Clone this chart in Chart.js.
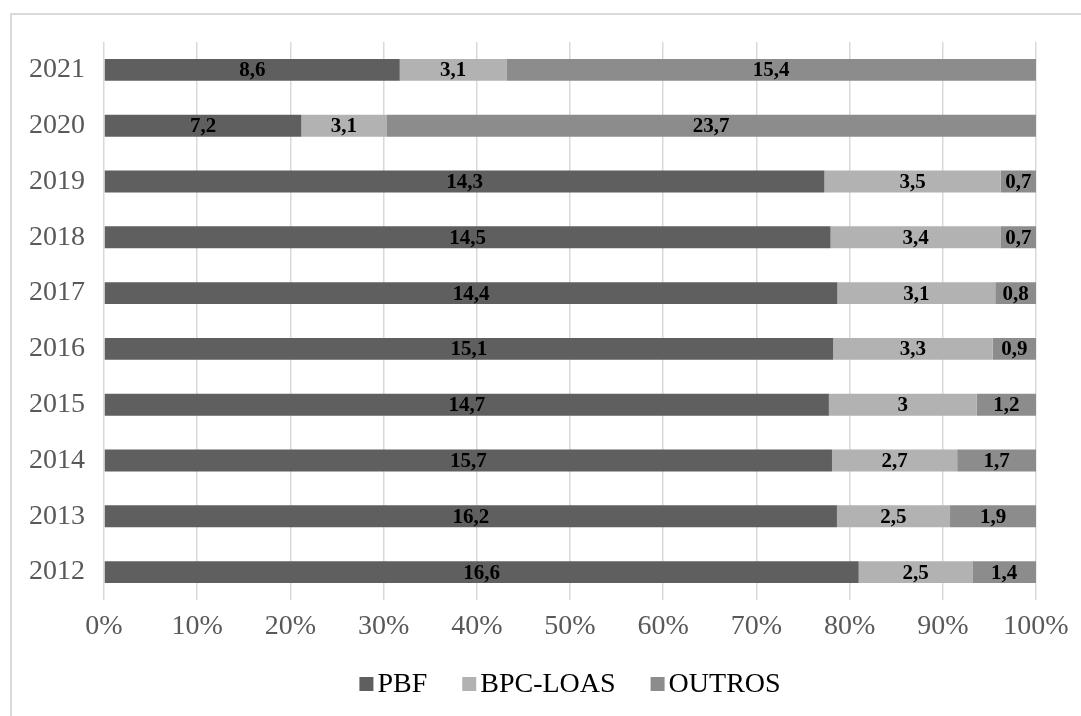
<!DOCTYPE html>
<html>
<head>
<meta charset="utf-8">
<script src="https://cdn.jsdelivr.net/npm/chart.js@4.4.1/dist/chart.umd.min.js"></script>
<style>
  html, body { margin: 0; padding: 0; background: #ffffff; }
  #wrap { width: 1081px; height: 716px; position: relative; }
</style>
</head>
<body>
<div id="wrap"><canvas id="chart"></canvas></div>
<script>
// Anos (de cima para baixo, como no gráfico)
const years = ['2021', '2020', '2019', '2018', '2017', '2016', '2015', '2014', '2013', '2012'];

// Valores por programa (rótulos das barras)
const pbf     = [8.6, 7.2, 14.3, 14.5, 14.4, 15.1, 14.7, 15.7, 16.2, 16.6];
const bpcLoas = [3.1, 3.1, 3.5, 3.4, 3.1, 3.3, 3.0, 2.7, 2.5, 2.5];
const outros  = [15.4, 23.7, 0.7, 0.7, 0.8, 0.9, 1.2, 1.7, 1.9, 1.4];

const xTicks = [0, 10, 20, 30, 40, 50, 60, 70, 80, 90, 100];

const COLORS = {
  pbf: '#5f5f5f',
  bpc: '#b2b2b2',
  outros: '#8c8c8c',
  grid: '#d9d9d9',
  tick: '#595959'
};

const SERIF = '"Liberation Serif", "Times New Roman", serif';

// 100% empilhado: cada segmento em % do total do ano
const totals = years.map((_, i) => pbf[i] + bpcLoas[i] + outros[i]);
const toPct = arr => arr.map((v, i) => v / totals[i] * 100);

const rawBySet = [pbf, bpcLoas, outros];

function fmt(v) {
  return String(v).replace('.', ',');
}

// Rótulos dentro das barras
const barLabels = {
  id: 'barLabels',
  afterDatasetsDraw(chart) {
    const ctx = chart.ctx;
    ctx.save();
    ctx.font = 'bold 21px ' + SERIF;
    ctx.fillStyle = '#000000';
    ctx.textAlign = 'center';
    ctx.textBaseline = 'middle';
    chart.data.datasets.forEach((ds, di) => {
      const meta = chart.getDatasetMeta(di);
      meta.data.forEach((el, i) => {
        const cx = (el.x + el.base) / 2;
        ctx.fillText(fmt(rawBySet[di][i]), cx, el.y + 1);
      });
    });
    ctx.restore();
  }
};

// Legenda embaixo, caixa colada ao texto
const bottomLegend = {
  id: 'bottomLegend',
  afterDraw(chart) {
    const ctx = chart.ctx;
    const box = 14, gap = 4, spacing = 35, y = 684;
    ctx.save();
    ctx.font = '28px ' + SERIF;
    ctx.textBaseline = 'middle';
    const items = chart.data.datasets.map(ds => ({
      text: ds.label,
      color: ds.backgroundColor,
      w: box + gap + ctx.measureText(ds.label).width
    }));
    const total = items.reduce((s, it) => s + it.w, 0) + spacing * (items.length - 1);
    const area = chart.chartArea;
    let x = (area.left + area.right) / 2 - total / 2;
    items.forEach(it => {
      ctx.fillStyle = it.color;
      ctx.fillRect(x, y - box / 2, box, box);
      ctx.fillStyle = '#000000';
      ctx.fillText(it.text, x + box + gap, y + 1);
      x += it.w + spacing;
    });
    ctx.restore();
  }
};

// Moldura do gráfico
const frame = {
  id: 'frame',
  beforeDraw(chart) {
    const ctx = chart.ctx;
    ctx.save();
    ctx.strokeStyle = COLORS.grid;
    ctx.lineWidth = 2;
    ctx.beginPath();
    ctx.moveTo(11, chart.height);
    ctx.lineTo(11, 14);
    ctx.lineTo(chart.width, 14);
    ctx.stroke();
    ctx.restore();
  }
};

const ctx = document.getElementById('chart').getContext('2d');

new Chart(ctx, {
  type: 'bar',
  data: {
    labels: years,
    datasets: [
      { label: 'PBF', data: toPct(pbf), backgroundColor: COLORS.pbf },
      { label: 'BPC-LOAS', data: toPct(bpcLoas), backgroundColor: COLORS.bpc },
      { label: 'OUTROS', data: toPct(outros), backgroundColor: COLORS.outros }
    ]
  },
  options: {
    indexAxis: 'y',
    responsive: true,
    maintainAspectRatio: false,
    animation: false,
    datasets: {
      bar: {
        barPercentage: 0.8,
        categoryPercentage: 0.49,
        borderWidth: 0
      }
    },
    layout: {
      padding: { top: 42, right: 45, bottom: 66, left: 0 }
    },
    plugins: {
      tooltip: { enabled: false },
      legend: { display: false }
    },
    scales: {
      x: {
        stacked: true,
        min: 0,
        max: 100,
        afterBuildTicks(scale) {
          scale.ticks = xTicks.map(v => ({ value: v }));
        },
        afterFit(scale) {
          scale.height = 50;
        },
        ticks: {
          padding: 10,
          color: COLORS.tick,
          font: { family: SERIF, size: 28 },
          callback: v => v + '%'
        },
        grid: {
          color: COLORS.grid,
          lineWidth: 1.5,
          drawTicks: false
        },
        border: { display: false }
      },
      y: {
        stacked: true,
        afterFit(scale) {
          scale.width = 104;
        },
        ticks: {
          padding: 19,
          color: COLORS.tick,
          font: { family: SERIF, size: 28 }
        },
        grid: { display: false, drawTicks: false },
        border: { display: false }
      }
    }
  },
  plugins: [frame, barLabels, bottomLegend]
});
</script>
</body>
</html>
